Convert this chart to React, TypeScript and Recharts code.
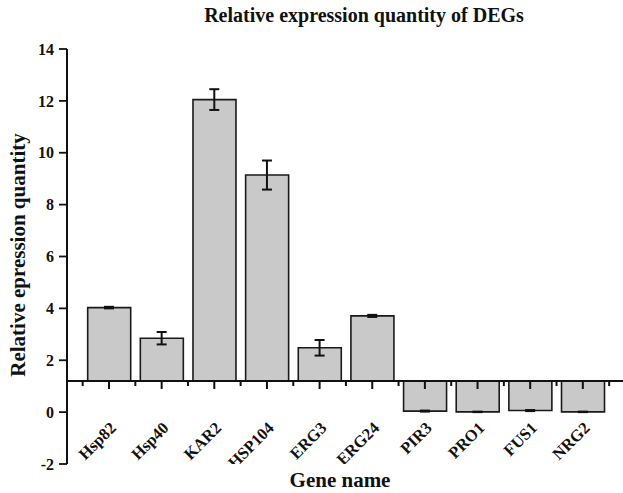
import React from 'react';
import { ComposedChart, Bar, Scatter, ErrorBar, XAxis, YAxis, ReferenceLine } from 'recharts';

const genes = ['Hsp82', 'Hsp40', 'KAR2', 'HSP104', 'ERG3', 'ERG24', 'PIR3', 'PRO1', 'FUS1', 'NRG2'];
const expression = [4.03, 2.85, 12.05, 9.14, 2.48, 3.71, 0.04, 0.01, 0.06, 0.01];
const errors = [0.03, 0.24, 0.4, 0.56, 0.3, 0.04, 0.02, 0.01, 0.02, 0.01];
const positions = [1, 2, 3, 4, 5, 6, 7, 8, 9, 10];
const minorTicks = [0.5, 1.5, 2.5, 3.5, 4.5, 5.5, 6.5, 7.5, 8.5, 9.5, 10.5];
const yTicks = [-2, 0, 2, 4, 6, 8, 10, 12, 14];
const AXIS_Y = 1.2; // where the category axis crosses

const FONT = "'Liberation Serif', 'Times New Roman', serif";
const X_DOMAIN: [number, number] = [0.202, 10.763];

const data = genes.map((gene, i) => ({
  x: positions[i],
  gene,
  range: [AXIS_Y, expression[i]],
  value: expression[i],
  err: errors[i],
}));
const majorRows = genes.map((gene, i) => ({ x: positions[i], y: AXIS_Y, gene }));
const minorRows = minorTicks.map((x) => ({ x, y: AXIS_Y }));

const MajorTick = (props: any) => {
  const { cx, cy, payload } = props;
  const tx = cx + 8;
  const ty = cy + 48;
  return (
    <g>
      <rect x={cx - 1} y={cy} width={2} height={8} fill="#111" />
      <text
        x={tx}
        y={ty}
        textAnchor="end"
        transform={`rotate(-45 ${tx} ${ty})`}
        fontFamily={FONT}
        fontWeight="bold"
        fontSize={16.5}
        style={{ fill: '#111' }}
      >
        {payload.gene}
      </text>
    </g>
  );
};

const MinorTick = (props: any) => {
  const { cx, cy } = props;
  return (
    <g>
      <rect x={cx - 1} y={cy} width={2} height={5} fill="#111" />
    </g>
  );
};

export default function App() {
  return (
    <div style={{ position: 'absolute', left: 0, top: 0, width: 623, height: 493, background: '#fff' }}>
      <ComposedChart width={623} height={493} data={data} margin={{ top: 49, right: 0, bottom: 29, left: 7 }}>
        <XAxis dataKey="x" type="number" domain={X_DOMAIN} allowDataOverflow hide />
        <XAxis xAxisId="t" dataKey="x" type="number" domain={X_DOMAIN} allowDataOverflow hide />
        <YAxis
          type="number"
          domain={[-2, 14]}
          ticks={yTicks}
          allowDataOverflow
          width={60}
          axisLine={{ stroke: '#111', strokeWidth: 2 }}
          tickLine={{ stroke: '#111', strokeWidth: 1.8 }}
          tickSize={8}
          tickMargin={5}
          tick={{ fill: '#111', fontSize: 16, fontWeight: 'bold', fontFamily: FONT }}
        />
        <Bar dataKey="range" barSize={43} fill="#c9c9c9" stroke="#1a1a1a" strokeWidth={1.6} isAnimationActive={false} />
        <ReferenceLine y={AXIS_Y} stroke="#111" strokeWidth={2} />
        <Scatter xAxisId="t" data={data} dataKey="value" shape={() => <g />} isAnimationActive={false}>
          <ErrorBar dataKey="err" direction="y" width={5} stroke="#111" strokeWidth={2} />
        </Scatter>
        <Scatter xAxisId="t" data={majorRows} dataKey="y" shape={MajorTick} isAnimationActive={false} />
        <Scatter xAxisId="t" data={minorRows} dataKey="y" shape={MinorTick} isAnimationActive={false} />
      </ComposedChart>
      <div
        style={{
          position: 'absolute', left: 0, width: 728, top: 4, textAlign: 'center',
          fontFamily: FONT, fontWeight: 'bold', fontSize: 20, color: '#111', whiteSpace: 'nowrap',
        }}
      >
        Relative expression quantity of DEGs
      </div>
      <div
        style={{
          position: 'absolute', left: 240, width: 200, top: 468, textAlign: 'center',
          fontFamily: FONT, fontWeight: 'bold', fontSize: 21, color: '#111', whiteSpace: 'nowrap',
        }}
      >
        Gene name
      </div>
      <div
        style={{
          position: 'absolute', left: 18, top: 255, width: 0, height: 0,
        }}
      >
        <div
          style={{
            position: 'absolute', left: -150, top: -13, width: 300, textAlign: 'center',
            transform: 'rotate(-90deg)', fontFamily: FONT, fontWeight: 'bold', fontSize: 21,
            color: '#111', whiteSpace: 'nowrap', lineHeight: '26px',
          }}
        >
          Relative epression quantity
        </div>
      </div>
    </div>
  );
}
